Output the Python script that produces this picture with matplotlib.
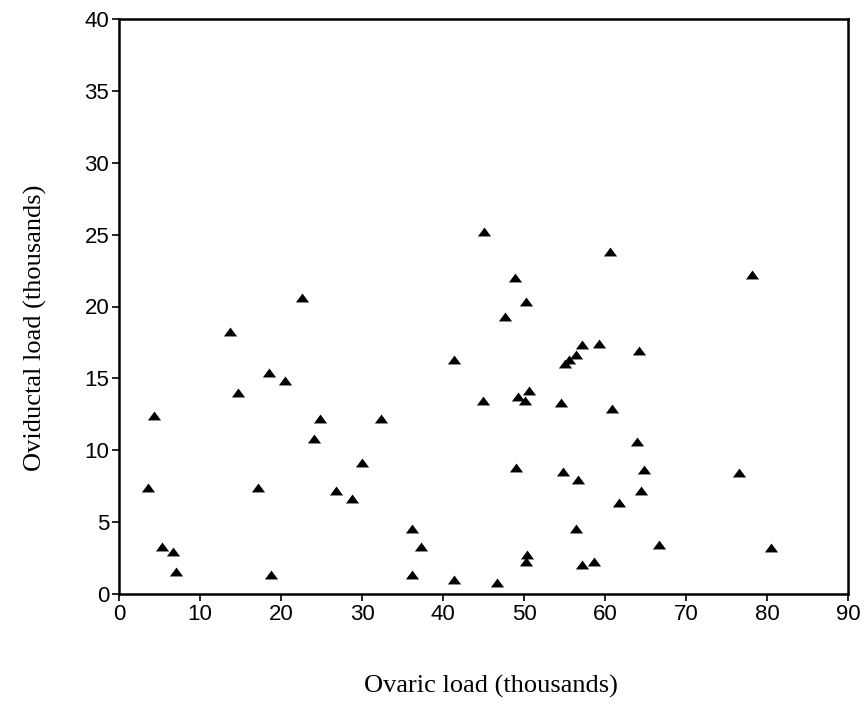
import matplotlib
matplotlib.use("Agg")
import matplotlib.pyplot as plt

ovaric = [3.6, 4.3, 5.3, 6.7, 7.0, 13.7, 14.7, 17.2, 18.5, 18.8, 20.5, 22.6, 24.1, 24.8,
          26.8, 28.8, 30.0, 32.3, 36.2, 37.3, 36.2, 41.4, 41.4, 44.9, 45.0, 46.7, 47.6,
          48.9, 49.0, 49.3, 50.1, 50.3, 50.6, 50.2, 50.4, 54.6, 54.8, 55.0, 55.5, 56.4,
          57.1, 56.4, 56.7, 57.1, 58.6, 59.2, 60.6, 60.9, 61.7, 63.9, 64.2, 64.4, 64.8,
          66.7, 76.6, 78.2, 80.5]
oviductal = [7.4, 12.4, 3.3, 2.9, 1.5, 18.2, 14.0, 7.4, 15.4, 1.3, 14.8, 20.6, 10.8, 12.2,
             7.2, 6.6, 9.1, 12.2, 4.5, 3.3, 1.3, 16.3, 1.0, 13.4, 25.2, 0.8, 19.3,
             22.0, 8.8, 13.7, 13.4, 20.3, 14.1, 2.2, 2.7, 13.3, 8.5, 16.0, 16.3, 16.6,
             17.3, 4.5, 7.9, 2.0, 2.2, 17.4, 23.8, 12.9, 6.3, 10.6, 16.9, 7.2, 8.6,
             3.4, 8.4, 22.2, 3.2]

xticks = [0, 10, 20, 30, 40, 50, 60, 70, 80, 90]
yticks = [0, 5, 10, 15, 20, 25, 30, 35, 40]

fig = plt.figure(figsize=(8.66, 7.06), dpi=100)
ax = fig.add_axes([119/866, 1-594/706, (848-119)/866, (594-19)/706])

tri = [(-1.0, -0.6), (1.0, -0.6), (0.0, 0.75), (-1.0, -0.6)]
ax.plot(ovaric, oviductal, linestyle='none', marker=tri, markersize=9.5,
        color='black', markeredgewidth=0)

ax.set_xlim(0, 90)
ax.set_ylim(0, 40)
ax.set_xticks(xticks)
ax.set_yticks(yticks)
ax.set_xticklabels([str(t) for t in xticks], fontfamily='Liberation Sans', fontsize=16)
ax.set_yticklabels([str(t) for t in yticks], fontfamily='Liberation Sans', fontsize=16)
ax.tick_params(direction='out', length=5, width=1.2, pad=2, colors='black')
ax.tick_params(right=False, top=False)
for s in ax.spines.values():
    s.set_linewidth(1.8)
    s.set_color('black')

fig.text(491/866, 1-686/706, 'Ovaric load (thousands)', ha='center', va='center',
         fontfamily='Liberation Serif', fontsize=19)
fig.text(35/866, 1-328/706, 'Oviductal load (thousands)', ha='center', va='center',
         rotation=90, fontfamily='Liberation Serif', fontsize=19)

fig.savefig('out.png', dpi=100, facecolor='white')
